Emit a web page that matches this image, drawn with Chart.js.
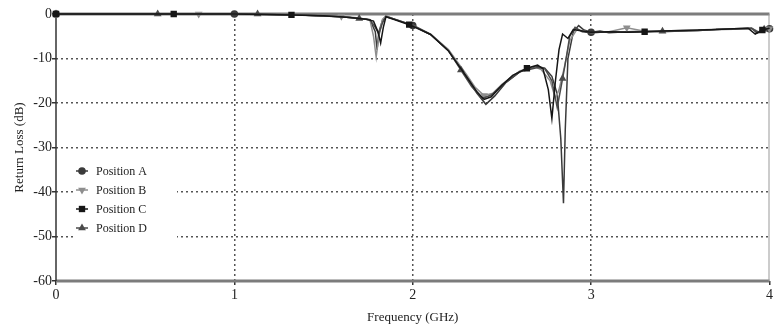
<!DOCTYPE html>
<html>
<head>
<meta charset="utf-8">
<script src="https://cdn.jsdelivr.net/npm/chart.js@4.4.4/dist/chart.umd.min.js"></script>
<style>
  html, body { margin: 0; padding: 0; background: #fff; }
  #wrap { width: 774px; height: 329px; }
</style>
</head>
<body>
<div id="wrap"><canvas id="c"></canvas></div>
<script>
// Frequency (GHz) and return loss (dB)
const freqA = [0, 0.5, 1.0, 1.2, 1.4, 1.6, 1.7, 1.76, 1.79, 1.80, 1.81, 1.83, 1.85, 1.9, 2.0, 2.1, 2.2, 2.3, 2.36, 2.41, 2.46, 2.52, 2.6, 2.65, 2.7, 2.74, 2.78, 2.81, 2.83, 2.845, 2.855, 2.87, 2.9, 2.93, 2.96, 3.0, 3.05, 3.1, 3.2, 3.3, 3.4, 3.5, 3.6, 3.7, 3.8, 3.9, 3.93, 3.96, 4.0];
const lossA = [0, 0, 0, -0.1, -0.3, -0.6, -1.0, -1.3, -4, -8, -4, -1.5, -0.5, -1.2, -2.6, -4.6, -8.2, -14, -17.8, -20.3, -18.4, -15.5, -13, -12.3, -11.8, -12.2, -14, -18, -28, -42.5, -26, -10, -4, -2.6, -3.6, -4.1, -3.8, -4.2, -4, -3.9, -4, -3.8, -3.7, -3.5, -3.4, -3.2, -4.3, -3.6, -3.3];

const freqB = [0, 0.4, 0.8, 1.2, 1.4, 1.6, 1.7, 1.76, 1.78, 1.795, 1.81, 1.83, 1.85, 1.9, 2.0, 2.1, 2.2, 2.3, 2.35, 2.4, 2.45, 2.5, 2.6, 2.68, 2.72, 2.77, 2.8, 2.82, 2.85, 2.88, 2.92, 2.96, 3.0, 3.1, 3.2, 3.3, 3.4, 3.5, 3.6, 3.7, 3.8, 3.9, 3.94, 3.97, 4.0];
const lossB = [0, 0, 0, -0.1, -0.3, -0.5, -0.9, -1.3, -5, -9.7, -5, -1.2, -0.4, -1.2, -2.5, -4.5, -8, -13.5, -16.5, -18.3, -17.8, -15.8, -12.8, -11.8, -12.5, -15, -19, -17, -12, -6, -3.5, -3.8, -4.2, -4, -3.1, -3.9, -3.8, -3.7, -3.6, -3.4, -3.3, -3.2, -4, -3.5, -3.3];

const freqC = [0, 0.66, 1.0, 1.32, 1.5, 1.65, 1.74, 1.78, 1.805, 1.82, 1.835, 1.85, 1.9, 1.98, 2.1, 2.2, 2.3, 2.36, 2.4, 2.44, 2.5, 2.56, 2.64, 2.7, 2.73, 2.76, 2.78, 2.8, 2.82, 2.84, 2.87, 2.9, 2.95, 3.0, 3.1, 3.2, 3.3, 3.4, 3.5, 3.6, 3.7, 3.8, 3.88, 3.92, 3.96, 4.0];
const lossC = [0, 0, 0, -0.2, -0.4, -0.8, -1.2, -1.6, -4, -6.5, -3, -0.6, -1.3, -2.4, -4.6, -8.3, -14, -17.5, -19.2, -18.6, -16, -13.8, -12.2, -11.5, -12.3, -17, -23.5, -15, -8, -4.5, -5.5, -3.5, -3.8, -4.1, -4, -4.1, -4, -3.8, -3.7, -3.6, -3.5, -3.3, -3.2, -4.5, -3.6, -3.2];

const freqD = [0, 0.57, 1.13, 1.4, 1.6, 1.7, 1.76, 1.79, 1.81, 1.83, 1.85, 1.9, 2.0, 2.1, 2.2, 2.27, 2.33, 2.39, 2.44, 2.5, 2.6, 2.7, 2.74, 2.78, 2.81, 2.84, 2.86, 2.88, 2.91, 2.95, 3.0, 3.1, 3.2, 3.3, 3.4, 3.5, 3.6, 3.7, 3.8, 3.9, 3.94, 3.97, 4.0];
const lossD = [0, 0, 0, -0.3, -0.6, -1.0, -1.3, -3, -4.5, -2, -0.6, -1.2, -2.5, -4.6, -8.2, -12.6, -16.3, -19, -18.2, -16, -13, -12, -12.3, -15, -21, -14.5, -10, -5, -3, -4, -4.2, -4, -4.1, -4, -3.9, -3.8, -3.7, -3.5, -3.3, -3.2, -4.2, -3.4, -3.2];

// frequencies where each trace carries a marker
const markA = [0, 1, 2, 3, 4];
const markB = [0, 0.8, 1.6, 2.4, 3.2, 4.0];
const markC = [0, 0.66, 1.32, 1.98, 2.64, 3.3, 3.96];
const markD = [0, 0.57, 1.13, 1.7, 2.27, 2.84, 3.4, 3.97];

const seriesNames = ['Position A', 'Position B', 'Position C', 'Position D'];

const serif = "'Liberation Serif', 'DejaVu Serif', serif";

function toPoints(xs, ys) {
  return xs.map((x, i) => ({ x, y: ys[i] }));
}

function makeSet(name, xs, ys, marks, color, style, rotation, radius, order) {
  return {
    label: name,
    data: toPoints(xs, ys),
    showLine: true,
    clip: 8,
    order: order,
    borderColor: color,
    backgroundColor: color,
    borderWidth: 1.5,
    tension: 0,
    pointStyle: style,
    rotation: rotation,
    pointRadius: ctx => marks.includes(ctx.raw && ctx.raw.x) ? radius : 0,
    pointBorderWidth: 0,
    pointHoverRadius: 0,
  };
}

const datasets = [
  makeSet(seriesNames[0], freqA, lossA, markA, '#3a3a3a', 'circle', 0, 3.8, 3),
  makeSet(seriesNames[1], freqB, lossB, markB, '#8e8e8e', 'triangle', 180, 4.5, 2),
  makeSet(seriesNames[2], freqC, lossC, markC, '#161616', 'rect', 0, 4.5, 0),
  makeSet(seriesNames[3], freqD, lossD, markD, '#4a4a4a', 'triangle', 0, 4.5, 1),
];

// frame: heavy grey top/bottom, thin left/right (drawn under the traces)
const framePlugin = {
  id: 'frame',
  beforeDatasetsDraw(chart) {
    const { ctx, chartArea: a } = chart;
    ctx.save();
    ctx.strokeStyle = '#7c7c7c';
    ctx.lineWidth = 3;
    ctx.beginPath();
    ctx.moveTo(a.left, a.top); ctx.lineTo(a.right, a.top);
    ctx.moveTo(a.left, a.bottom); ctx.lineTo(a.right, a.bottom);
    ctx.stroke();
    ctx.strokeStyle = '#333';
    ctx.lineWidth = 1.5;
    ctx.beginPath();
    ctx.moveTo(a.left, a.top); ctx.lineTo(a.left, a.bottom);
    ctx.stroke();
    ctx.strokeStyle = '#999';
    ctx.lineWidth = 1;
    ctx.beginPath();
    ctx.moveTo(a.right - 0.5, a.top); ctx.lineTo(a.right - 0.5, a.bottom);
    ctx.stroke();
    ctx.restore();
  }
};

// legend in the lower-left of the plot: short line with marker, then text
const legendPlugin = {
  id: 'boxLegend',
  afterDraw(chart) {
    const { ctx, chartArea: a } = chart;
    const x0 = a.left + 16, y0 = a.top + 157, rowH = 19;
    ctx.save();
    ctx.fillStyle = '#fff';
    ctx.fillRect(x0 + 2, y0 - 12, 103, rowH * 4 + 6);
    chart.data.datasets.forEach((ds, i) => {
      const y = y0 + i * rowH;
      const mx = x0 + 10;
      ctx.strokeStyle = ds.borderColor;
      ctx.lineWidth = 1.5;
      ctx.beginPath();
      ctx.moveTo(mx - 6, y); ctx.lineTo(mx + 6, y);
      ctx.stroke();
      ctx.fillStyle = ds.backgroundColor;
      ctx.strokeStyle = ds.borderColor;
      Chart.helpers.drawPoint(ctx, {
        pointStyle: ds.pointStyle, rotation: ds.rotation,
        radius: ds.pointStyle === 'circle' ? 3.8 : 4.5, borderWidth: 0
      }, mx, y);
      ctx.fillStyle = '#222';
      ctx.font = "12px " + serif;
      ctx.textBaseline = 'middle';
      ctx.fillText(ds.label, x0 + 24, y + 1);
    });
    ctx.restore();
  }
};

const edgeHidden = (ctx, lo, hi) =>
  (ctx.tick && (ctx.tick.value === lo || ctx.tick.value === hi)) ? 'rgba(0,0,0,0)' : '#555';

new Chart(document.getElementById('c'), {
  type: 'scatter',
  data: { datasets },
  options: {
    responsive: true,
    maintainAspectRatio: false,
    animation: false,
    layout: { padding: { top: 14, right: 1, left: 0, bottom: 0 } },
    plugins: { legend: { display: false }, tooltip: { enabled: false } },
    scales: {
      x: {
        type: 'linear', min: 0, max: 4,
        afterFit: s => { s.height = 48; s.paddingRight = 0; s.paddingLeft = 0; },
        ticks: { stepSize: 1, color: '#222', padding: 2, font: { family: serif, size: 14 } },
        grid: { color: ctx => edgeHidden(ctx, 0, 4), lineWidth: 1.5, tickLength: 4, tickColor: '#333', tickBorderDash: [] },
        border: { display: false, dash: [2, 3] },
        title: { display: true, text: 'Frequency (GHz)', color: '#222', padding: { top: 0, bottom: 4 }, font: { family: serif, size: 13 } }
      },
      y: {
        min: -60, max: 0,
        afterFit: s => { s.width = 56; },
        ticks: { stepSize: 10, color: '#222', padding: 0, font: { family: serif, size: 14 } },
        grid: { color: ctx => edgeHidden(ctx, -60, 0), lineWidth: 1.5, tickLength: 4, tickColor: '#333', tickBorderDash: [] },
        border: { display: false, dash: [2, 3] },
        title: { display: true, text: 'Return Loss (dB)', color: '#222', padding: { top: 12, bottom: 0 }, font: { family: serif, size: 13 } }
      }
    }
  },
  plugins: [framePlugin, legendPlugin]
});
</script>
</body>
</html>
